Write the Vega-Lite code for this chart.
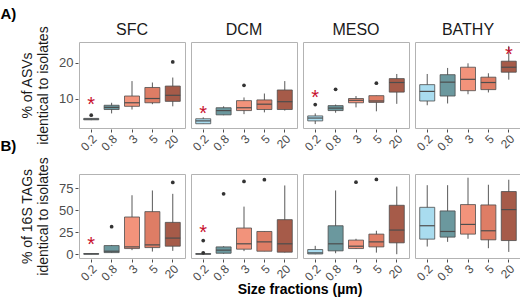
{
  "$schema": "https://vega.github.io/schema/vega-lite/v6.json",
  "padding": {"left": 0, "top": 7, "right": 2, "bottom": 2},
  "background": "white",
  "config": {
    "font": "Liberation Sans",
    "view": {"stroke": "#b3b3b3", "strokeWidth": 1},
    "axis": {"grid": false, "domain": false, "labelFont": "Liberation Sans", "labelColor": "#4d4d4d", "labelFontSize": 13, "labelOverlap": false, "tickColor": "#4d4d4d", "tickSize": 3, "labelPadding": 2, "titleFont": "Liberation Sans", "titleFontWeight": "normal", "titleFontSize": 14, "titleColor": "#1a1a1a", "titlePadding": 8},
    "axisX": {"labelFontSize": 12, "labelPadding": 1},
    "title": {"font": "Liberation Sans", "color": "#000000"}
  },
  "datasets": {
    "asv": [
      {"region": "SFC", "fraction": "0.2", "kind": "box", "min": 3.9, "q1": 4.0, "med": 4.2, "q3": 4.4, "max": 4.5},
      {"region": "SFC", "fraction": "0.2", "kind": "out", "value": 5.3},
      {"region": "SFC", "fraction": "0.2", "kind": "star", "value": 9.2},
      {"region": "SFC", "fraction": "0.8", "kind": "box", "min": 5.8, "q1": 6.9, "med": 7.5, "q3": 8.1, "max": 8.8},
      {"region": "SFC", "fraction": "3", "kind": "box", "min": 6.9, "q1": 7.8, "med": 8.8, "q3": 10.7, "max": 14.9},
      {"region": "SFC", "fraction": "5", "kind": "box", "min": 8.4, "q1": 8.8, "med": 10.0, "q3": 13.1, "max": 14.5},
      {"region": "SFC", "fraction": "20", "kind": "box", "min": 7.8, "q1": 9.2, "med": 10.9, "q3": 13.5, "max": 15.9},
      {"region": "SFC", "fraction": "20", "kind": "out", "value": 20.3},
      {"region": "DCM", "fraction": "0.2", "kind": "box", "min": 2.9, "q1": 2.9, "med": 3.7, "q3": 4.3, "max": 4.7},
      {"region": "DCM", "fraction": "0.2", "kind": "star", "value": 6.9},
      {"region": "DCM", "fraction": "0.8", "kind": "box", "min": 5.3, "q1": 5.4, "med": 6.6, "q3": 7.4, "max": 7.8},
      {"region": "DCM", "fraction": "3", "kind": "box", "min": 5.6, "q1": 6.6, "med": 7.4, "q3": 9.4, "max": 10.3},
      {"region": "DCM", "fraction": "3", "kind": "out", "value": 13.7},
      {"region": "DCM", "fraction": "5", "kind": "box", "min": 6.1, "q1": 6.9, "med": 8.4, "q3": 9.6, "max": 11.4},
      {"region": "DCM", "fraction": "20", "kind": "box", "min": 6.6, "q1": 6.9, "med": 9.1, "q3": 12.4, "max": 14.9},
      {"region": "MESO", "fraction": "0.2", "kind": "box", "min": 2.8, "q1": 3.7, "med": 4.5, "q3": 5.1, "max": 5.8},
      {"region": "MESO", "fraction": "0.2", "kind": "out", "value": 8.3},
      {"region": "MESO", "fraction": "0.2", "kind": "star", "value": 11.3},
      {"region": "MESO", "fraction": "0.8", "kind": "box", "min": 6.0, "q1": 6.6, "med": 7.3, "q3": 8.0, "max": 8.3},
      {"region": "MESO", "fraction": "0.8", "kind": "out", "value": 12.6},
      {"region": "MESO", "fraction": "3", "kind": "box", "min": 7.5, "q1": 8.8, "med": 9.5, "q3": 10.0, "max": 10.7},
      {"region": "MESO", "fraction": "5", "kind": "box", "min": 6.4, "q1": 8.9, "med": 9.3, "q3": 10.8, "max": 10.8},
      {"region": "MESO", "fraction": "5", "kind": "out", "value": 14.3},
      {"region": "MESO", "fraction": "20", "kind": "box", "min": 8.5, "q1": 11.8, "med": 14.5, "q3": 15.6, "max": 16.9},
      {"region": "BATHY", "fraction": "0.2", "kind": "box", "min": 8.1, "q1": 9.3, "med": 12.0, "q3": 13.9, "max": 16.9},
      {"region": "BATHY", "fraction": "0.8", "kind": "box", "min": 8.6, "q1": 10.7, "med": 14.6, "q3": 16.7, "max": 18.6},
      {"region": "BATHY", "fraction": "3", "kind": "box", "min": 11.2, "q1": 12.2, "med": 15.4, "q3": 18.8, "max": 19.9},
      {"region": "BATHY", "fraction": "5", "kind": "box", "min": 11.7, "q1": 12.5, "med": 14.5, "q3": 16.0, "max": 17.1},
      {"region": "BATHY", "fraction": "20", "kind": "box", "min": 15.3, "q1": 17.4, "med": 18.8, "q3": 20.5, "max": 24.8},
      {"region": "BATHY", "fraction": "20", "kind": "star", "value": 23.3}
    ],
    "tag": [
      {"region": "SFC", "fraction": "0.2", "kind": "box", "min": 0, "q1": 0, "med": 0.3, "q3": 0.7, "max": 1},
      {"region": "SFC", "fraction": "0.2", "kind": "star", "value": 15.2},
      {"region": "SFC", "fraction": "0.8", "kind": "box", "min": 1.5, "q1": 1.8, "med": 3.4, "q3": 9.8, "max": 10.5},
      {"region": "SFC", "fraction": "0.8", "kind": "out", "value": 31.2},
      {"region": "SFC", "fraction": "3", "kind": "box", "min": 4.6, "q1": 6.4, "med": 8.3, "q3": 42.2, "max": 66.9},
      {"region": "SFC", "fraction": "5", "kind": "box", "min": 3, "q1": 7.5, "med": 10.6, "q3": 48.3, "max": 72.3},
      {"region": "SFC", "fraction": "20", "kind": "box", "min": 3.8, "q1": 9.1, "med": 18.3, "q3": 36.1, "max": 68.5},
      {"region": "SFC", "fraction": "20", "kind": "out", "value": 81.4},
      {"region": "DCM", "fraction": "0.2", "kind": "box", "min": 0, "q1": 0, "med": 0.3, "q3": 0.6, "max": 1},
      {"region": "DCM", "fraction": "0.2", "kind": "out", "value": 1.6},
      {"region": "DCM", "fraction": "0.2", "kind": "out", "value": 15.5},
      {"region": "DCM", "fraction": "0.2", "kind": "star", "value": 28.1},
      {"region": "DCM", "fraction": "0.8", "kind": "box", "min": 0.5, "q1": 1.1, "med": 4.6, "q3": 8.3, "max": 9.1},
      {"region": "DCM", "fraction": "0.8", "kind": "out", "value": 68.5},
      {"region": "DCM", "fraction": "3", "kind": "box", "min": 3.5, "q1": 5.7, "med": 11.8, "q3": 29.7, "max": 54},
      {"region": "DCM", "fraction": "3", "kind": "out", "value": 82.5},
      {"region": "DCM", "fraction": "5", "kind": "box", "min": 3.4, "q1": 3.4, "med": 14.0, "q3": 25.8, "max": 25.8},
      {"region": "DCM", "fraction": "5", "kind": "out", "value": 84.5},
      {"region": "DCM", "fraction": "20", "kind": "box", "min": 2, "q1": 2.3, "med": 11.8, "q3": 39.2, "max": 78},
      {"region": "MESO", "fraction": "0.2", "kind": "box", "min": 0, "q1": 0.3, "med": 1.5, "q3": 5.3, "max": 9.5},
      {"region": "MESO", "fraction": "0.8", "kind": "box", "min": 1.1, "q1": 3.8, "med": 11.8, "q3": 32.3, "max": 72.3},
      {"region": "MESO", "fraction": "3", "kind": "box", "min": 6, "q1": 6.4, "med": 9.1, "q3": 16, "max": 17.5},
      {"region": "MESO", "fraction": "3", "kind": "out", "value": 81.7},
      {"region": "MESO", "fraction": "5", "kind": "box", "min": 1.8, "q1": 8.3, "med": 14, "q3": 22.8, "max": 26.6},
      {"region": "MESO", "fraction": "5", "kind": "out", "value": 84.8},
      {"region": "MESO", "fraction": "20", "kind": "box", "min": 0, "q1": 12.9, "med": 27.4, "q3": 55.5, "max": 76.8},
      {"region": "BATHY", "fraction": "0.2", "kind": "box", "min": 8.7, "q1": 17.1, "med": 32.3, "q3": 53.2, "max": 78.3},
      {"region": "BATHY", "fraction": "0.8", "kind": "box", "min": 14, "q1": 19.4, "med": 25.8, "q3": 49.1, "max": 78.3},
      {"region": "BATHY", "fraction": "3", "kind": "box", "min": 17.5, "q1": 22.8, "med": 33.8, "q3": 56.3, "max": 86.8},
      {"region": "BATHY", "fraction": "5", "kind": "box", "min": 6.8, "q1": 16.3, "med": 26.6, "q3": 55.9, "max": 78.8},
      {"region": "BATHY", "fraction": "20", "kind": "box", "min": 2.6, "q1": 15.5, "med": 50.6, "q3": 71.1, "max": 84.5}
    ]
  },
  "vconcat": [
    {
      "title": {"text": "A)", "anchor": "start", "dx": -20, "fontSize": 15, "fontWeight": "bold", "offset": 0},
      "data": {"name": "asv"},
      "facet": {"column": {"field": "region", "type": "nominal", "sort": ["SFC", "DCM", "MESO", "BATHY"], "header": {"title": null, "labelFontSize": 16, "labelColor": "#1a1a1a", "labelPadding": 3}}},
      "spacing": 4,
      "spec": {
        "width": 106,
        "height": 86,
        "encoding": {
          "x": {"field": "fraction", "type": "nominal", "sort": ["0.2", "0.8", "3", "5", "20"], "scale": {"paddingInner": 0, "paddingOuter": 0.1}, "axis": {"title": null, "labelAngle": -45}}
        },
        "layer": [
          {"transform": [{"filter": "datum.kind === 'box'"}], "mark": {"type": "rule", "color": "#595959", "strokeWidth": 1},
           "encoding": {"y": {"field": "min", "type": "quantitative", "scale": {"domain": [1.7, 25.9], "nice": false, "zero": false}, "axis": {"values": [10, 20], "title": ["% of ASVs", "identical to isolates"]}}, "y2": {"field": "max"}}},
          {"transform": [{"filter": "datum.kind === 'box'"}], "mark": {"type": "bar", "size": 15, "stroke": "#4d4d4d", "strokeWidth": 0.8},
           "encoding": {"y": {"field": "q1", "type": "quantitative", "axis": {"values": [10, 20], "title": ["% of ASVs", "identical to isolates"]}}, "y2": {"field": "q3"}, "color": {"field": "fraction", "type": "nominal", "scale": {"domain": ["0.2", "0.8", "3", "5", "20"], "range": ["#a9dcef", "#6b989e", "#f2937b", "#de7d65", "#a65b49"]}, "legend": null}}},
          {"transform": [{"filter": "datum.kind === 'box'"}], "mark": {"type": "tick", "size": 15, "thickness": 1.2, "color": "#4d4d4d", "opacity": 1},
           "encoding": {"y": {"field": "med", "type": "quantitative", "axis": {"values": [10, 20], "title": ["% of ASVs", "identical to isolates"]}}}},
          {"transform": [{"filter": "datum.kind === 'out'"}], "mark": {"type": "circle", "size": 14, "color": "#333333", "opacity": 1},
           "encoding": {"y": {"field": "value", "type": "quantitative", "axis": {"values": [10, 20], "title": ["% of ASVs", "identical to isolates"]}}}},
          {"transform": [{"filter": "datum.kind === 'star'"}], "mark": {"type": "text", "text": "*", "fontSize": 20, "color": "#c8102e", "baseline": "middle", "dy": 4},
           "encoding": {"y": {"field": "value", "type": "quantitative", "axis": {"values": [10, 20], "title": ["% of ASVs", "identical to isolates"]}}}}
        ]
      }
    },
    {
      "title": {"text": "B)", "anchor": "start", "dx": -20, "fontSize": 15, "fontWeight": "bold", "offset": 3},
      "data": {"name": "tag"},
      "facet": {"column": {"field": "region", "type": "nominal", "sort": ["SFC", "DCM", "MESO", "BATHY"], "header": {"title": "Size fractions (µm)", "titleOrient": "bottom", "titleFontSize": 14, "titleFontWeight": "bold", "titleColor": "#000000", "titlePadding": -10, "labels": false}}},
      "spacing": 4,
      "spec": {
        "width": 106,
        "height": 84,
        "encoding": {
          "x": {"field": "fraction", "type": "nominal", "sort": ["0.2", "0.8", "3", "5", "20"], "scale": {"paddingInner": 0, "paddingOuter": 0.1}, "axis": {"title": null, "labelAngle": -45}}
        },
        "layer": [
          {"transform": [{"filter": "datum.kind === 'box'"}], "mark": {"type": "rule", "color": "#595959", "strokeWidth": 1},
           "encoding": {"y": {"field": "min", "type": "quantitative", "scale": {"domain": [-4.3, 91], "nice": false, "zero": false}, "axis": {"values": [0, 25, 50, 75], "title": ["% of 16S TAGs", "identical to isolates"]}}, "y2": {"field": "max"}}},
          {"transform": [{"filter": "datum.kind === 'box'"}], "mark": {"type": "bar", "size": 15, "stroke": "#4d4d4d", "strokeWidth": 0.8},
           "encoding": {"y": {"field": "q1", "type": "quantitative", "axis": {"values": [0, 25, 50, 75], "title": ["% of 16S TAGs", "identical to isolates"]}}, "y2": {"field": "q3"}, "color": {"field": "fraction", "type": "nominal", "scale": {"domain": ["0.2", "0.8", "3", "5", "20"], "range": ["#a9dcef", "#6b989e", "#f2937b", "#de7d65", "#a65b49"]}, "legend": null}}},
          {"transform": [{"filter": "datum.kind === 'box'"}], "mark": {"type": "tick", "size": 15, "thickness": 1.2, "color": "#4d4d4d", "opacity": 1},
           "encoding": {"y": {"field": "med", "type": "quantitative", "axis": {"values": [0, 25, 50, 75], "title": ["% of 16S TAGs", "identical to isolates"]}}}},
          {"transform": [{"filter": "datum.kind === 'out'"}], "mark": {"type": "circle", "size": 14, "color": "#333333", "opacity": 1},
           "encoding": {"y": {"field": "value", "type": "quantitative", "axis": {"values": [0, 25, 50, 75], "title": ["% of 16S TAGs", "identical to isolates"]}}}},
          {"transform": [{"filter": "datum.kind === 'star'"}], "mark": {"type": "text", "text": "*", "fontSize": 20, "color": "#c8102e", "baseline": "middle", "dy": 4},
           "encoding": {"y": {"field": "value", "type": "quantitative", "axis": {"values": [0, 25, 50, 75], "title": ["% of 16S TAGs", "identical to isolates"]}}}}
        ]
      }
    }
  ],
  "spacing": -15
}
